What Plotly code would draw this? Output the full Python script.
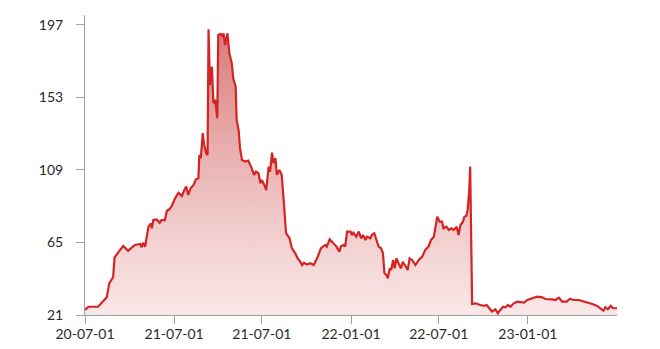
import plotly.graph_objects as go
import pandas as pd

start_date = "2020-07-01"

# days since start_date for each reading
day_offsets = [
    0, 7, 27, 45, 50, 58, 61, 79, 89, 103, 114, 117, 120, 124, 131, 136, 138, 141, 148, 154,
    158, 165, 169, 174, 179, 186, 193, 200, 205, 209, 213, 218, 224, 229, 234, 236, 239, 243, 246, 250,
    253, 255, 258, 262, 265, 269, 271, 273, 275, 280, 284, 286, 289, 294, 298, 303, 306, 311, 313, 317,
    320, 324, 331, 337, 344, 349, 353, 358, 362, 365, 370, 374, 379, 382, 386, 389, 393, 396, 401, 406,
    410, 415, 422, 427, 434, 439, 444, 448, 452, 458, 465, 472, 479, 487, 496, 499, 505, 512, 519, 525,
    528, 534, 537, 541, 548, 551, 554, 560, 565, 570, 574, 579, 582, 589, 592, 597, 601, 606, 611, 615,
    618, 622, 625, 629, 632, 636, 639, 643, 647, 652, 656, 661, 666, 670, 675, 682, 689, 696, 702, 709,
    714, 720, 727, 732, 737, 740, 746, 751, 756, 761, 767, 771, 775, 780, 783, 787, 790, 793, 795, 799,
    806, 816, 823, 829, 835, 840, 847, 852, 857, 863, 868, 873, 878, 885, 892, 899, 906, 913, 923, 933,
    944, 950, 964, 971, 978, 985, 994, 1001, 1008, 1019, 1026, 1037, 1047, 1057, 1064, 1070, 1074, 1079, 1085, 1090,
    1098,
]

values = [
    24.0, 26.0, 26.0, 31.7, 40.2, 43.9, 56.0, 62.9, 60.0, 63.5, 64.1, 62.1, 64.8, 62.4, 74.6, 76.6, 73.6, 78.6, 79.0, 77.0,
    78.6, 78.6, 84.3, 85.1, 87.1, 91.8, 95.2, 93.2, 96.8, 98.9, 93.8, 97.9, 99.9, 103.3, 103.9, 118.1, 116.1, 131.3, 124.2, 119.1,
    118.1, 194.4, 160.6, 171.7, 149.5, 151.5, 145.4, 140.4, 190.9, 191.5, 189.9, 191.9, 184.8, 191.9, 179.7, 173.6, 164.6, 159.5, 139.3, 133.3,
    122.2, 115.1, 114.1, 114.7, 110.1, 106.0, 108.0, 107.0, 100.9, 102.9, 99.9, 96.8, 111.0, 108.0, 119.5, 113.1, 116.1, 106.0, 109.0, 106.0,
    90.8, 70.6, 67.6, 61.5, 58.4, 55.4, 53.5, 51.3, 52.7, 51.6, 52.4, 51.3, 55.4, 61.5, 63.5, 62.5, 66.9, 64.5, 62.5, 59.4,
    62.5, 63.5, 62.5, 71.6, 71.6, 69.5, 70.9, 68.5, 71.6, 67.5, 69.5, 66.5, 68.5, 67.5, 69.5, 70.6, 66.5, 62.5, 61.5, 58.4,
    46.3, 45.3, 43.3, 49.3, 48.3, 54.4, 49.3, 55.4, 52.4, 49.3, 53.3, 50.3, 48.3, 55.4, 54.4, 51.3, 54.4, 56.4, 60.4, 62.5,
    66.5, 68.5, 80.6, 77.6, 77.6, 73.6, 74.6, 72.6, 73.6, 72.6, 74.6, 69.5, 75.6, 77.6, 80.6, 81.1, 85.1, 96.8, 111.0, 27.7,
    28.1, 27.1, 26.5, 27.1, 25.1, 23.1, 24.5, 22.0, 24.0, 26.0, 25.7, 27.1, 26.0, 28.1, 29.1, 28.6, 28.5, 30.1, 31.1, 32.1,
    31.7, 30.7, 30.5, 30.1, 31.5, 29.1, 29.1, 30.9, 30.1, 30.1, 29.5, 28.7, 27.7, 26.5, 25.1, 23.6, 25.7, 24.5, 26.5, 25.1,
    25.1,
]

y_tick_values = [21, 65, 109, 153, 197]
x_tick_dates = ["2020-07-01", "2021-01-01", "2021-07-01", "2022-01-01", "2022-07-01", "2023-01-01"]
x_tick_labels = ["20-07-01", "21-07-01", "21-07-01", "22-01-01", "22-07-01", "23-01-01"]

dates = pd.to_datetime(start_date) + pd.to_timedelta(day_offsets, unit="D")

fig = go.Figure(
    go.Scatter(
        x=dates,
        y=values,
        mode="lines",
        line=dict(color="#d42424", width=2.2),
        fill="tozeroy",
        fillgradient=dict(
            type="vertical",
            colorscale=[[0, "rgba(246,215,215,0.6)"], [1, "rgba(210,95,95,0.85)"]],
            start=21,
            stop=197,
        ),
        hoverinfo="skip",
    )
)

axis_font = dict(family="Lato, Noto Sans, sans-serif", size=14, color="#2a2a2a")

fig.update_layout(
    width=660,
    height=349,
    margin=dict(l=85, r=43, t=15, b=34, autoexpand=False),
    paper_bgcolor="white",
    plot_bgcolor="white",
    showlegend=False,
    xaxis=dict(
        type="date",
        range=[dates.min(), dates.max()],
        tickvals=x_tick_dates,
        ticktext=x_tick_labels,
        showgrid=False,
        zeroline=False,
        showline=True,
        linecolor="#a0a0a0",
        linewidth=1,
        ticks="outside",
        ticklen=8,
        tickcolor="#a0a0a0",
        tickfont=axis_font,
        ticklabelstandoff=-2,
        automargin=False,
    ),
    yaxis=dict(
        range=[21, 203],
        tickvals=y_tick_values,
        ticktext=[str(v) for v in y_tick_values],
        showgrid=False,
        zeroline=False,
        showline=True,
        linecolor="#a0a0a0",
        linewidth=1,
        ticks="outside",
        ticklen=8,
        tickcolor="#a0a0a0",
        tickfont=axis_font,
        ticklabelstandoff=10,
        automargin=False,
    ),
)

fig.write_html("out.html")
